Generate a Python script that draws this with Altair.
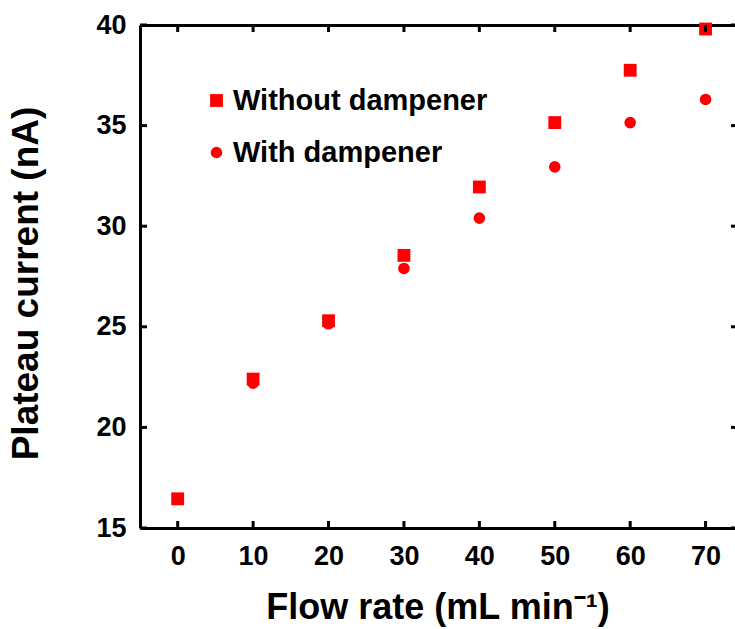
import altair as alt
import pandas as pd

# ---- data ----
flow_rate = [0, 10, 20, 30, 40, 50, 60, 70]
without_dampener = [16.45, 22.4, 25.3, 28.55, 31.95, 35.15, 37.75, 39.8]
with_dampener = [16.45, 22.2, 25.15, 27.9, 30.4, 32.95, 35.15, 36.3]
series_names = ["Without dampener", "With dampener"]
x_ticks = [0, 10, 20, 30, 40, 50, 60, 70]
y_ticks = [15, 20, 25, 30, 35, 40]

rows = []
for f, a, b in zip(flow_rate, without_dampener, with_dampener):
    rows.append({"flow": f, "current": a, "series": series_names[0]})
    rows.append({"flow": f, "current": b, "series": series_names[1]})
df = pd.DataFrame(rows)
xt = pd.DataFrame({"v": x_ticks})
yt = pd.DataFrame({"v": y_ticks})

FONT = "Liberation Sans"
W, H = 595, 503
TICK = 7

xscale = alt.Scale(domain=[-5, 73.9], nice=False, zero=False)
yscale = alt.Scale(domain=[15, 40], nice=False, zero=False)

points = alt.Chart(df).mark_point(filled=True, opacity=1, strokeWidth=0).encode(
    x=alt.X("flow:Q", scale=xscale,
            axis=alt.Axis(values=x_ticks, title="Flow rate (mL min⁻¹)", ticks=False,
                          domain=True, domainColor="black", domainWidth=3,
                          labelFont=FONT, labelFontSize=27, labelFontWeight="bold",
                          labelColor="black", labelPadding=15,
                          titleFont=FONT, titleFontSize=36, titleFontWeight="bold",
                          titleColor="black", titlePadding=21, grid=False)),
    y=alt.Y("current:Q", scale=yscale,
            axis=alt.Axis(values=y_ticks, title="Plateau current (nA)", ticks=False,
                          domain=True, domainColor="black", domainWidth=3,
                          labelFont=FONT, labelFontSize=27, labelFontWeight="bold",
                          labelColor="black", labelPadding=14,
                          titleFont=FONT, titleFontSize=37, titleFontWeight="bold",
                          titleColor="black", titlePadding=50, titleY=258, grid=False)),
    shape=alt.Shape("series:N",
                    scale=alt.Scale(domain=series_names, range=["square", "circle"]),
                    legend=alt.Legend(title=None)),
    color=alt.Color("series:N",
                    scale=alt.Scale(domain=series_names, range=["#ff0000", "#ff0000"]),
                    legend=alt.Legend(title=None)),
    size=alt.Size("series:N",
                  scale=alt.Scale(domain=series_names, range=[165, 135]),
                  legend=None),
)

top_axis = alt.Chart(xt).mark_point(opacity=0).encode(
    x=alt.X("v:Q", scale=xscale,
            axis=alt.Axis(orient="top", labels=False, ticks=False, title=None,
                          domain=True, domainColor="black", domainWidth=3, grid=False)),
)

left_ticks = alt.Chart(yt).mark_rule(color="black", strokeWidth=3).encode(
    y=alt.Y("v:Q", scale=yscale, axis=None),
    x=alt.value(0), x2=alt.value(TICK),
)
right_ticks = alt.Chart(yt).mark_rule(color="black", strokeWidth=3).encode(
    y=alt.Y("v:Q", scale=yscale, axis=None),
    x=alt.value(W - 4), x2=alt.value(W + 2),
)
bottom_ticks = alt.Chart(xt).mark_rule(color="black", strokeWidth=3).encode(
    x=alt.X("v:Q", scale=xscale, axis=None),
    y=alt.value(H - TICK), y2=alt.value(H),
)
top_ticks = alt.Chart(xt).mark_rule(color="black", strokeWidth=3).encode(
    x=alt.X("v:Q", scale=xscale, axis=None),
    y=alt.value(0), y2=alt.value(TICK),
)

chart = alt.layer(
    points, top_axis, left_ticks, right_ticks, bottom_ticks, top_ticks
).resolve_axis(
    x="independent", y="independent"
).properties(
    width=W, height=H,
    autosize=alt.AutoSizeParams(type="none"),
    padding={"left": 140, "top": 25, "right": 0, "bottom": 101},
).configure(
    font=FONT
).configure_view(
    stroke=None
).configure_legend(
    orient="none", legendX=62, legendY=61, padding=0,
    labelFont=FONT, labelFontSize=29, labelFontWeight="bold", labelColor="black",
    labelLimit=600, symbolSize=165, symbolStrokeWidth=0, rowPadding=22, labelOffset=2,
)

chart.save("out.html", embed_options={"renderer": "svg", "actions": False})
